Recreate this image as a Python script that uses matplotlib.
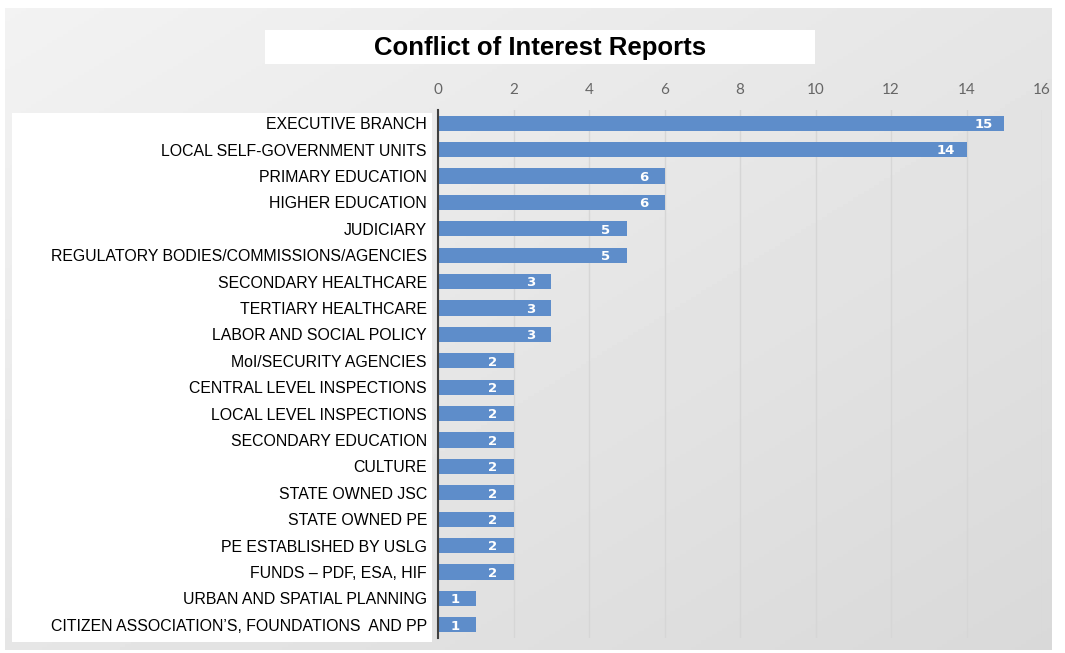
import numpy as np
import matplotlib
matplotlib.use('Agg')
import matplotlib.pyplot as plt
from matplotlib.patches import Rectangle

categories = [
    "EXECUTIVE BRANCH",
    "LOCAL SELF-GOVERNMENT UNITS",
    "PRIMARY EDUCATION",
    "HIGHER EDUCATION",
    "JUDICIARY",
    "REGULATORY BODIES/COMMISSIONS/AGENCIES",
    "SECONDARY HEALTHCARE",
    "TERTIARY HEALTHCARE",
    "LABOR AND SOCIAL POLICY",
    "MoI/SECURITY AGENCIES",
    "CENTRAL LEVEL INSPECTIONS",
    "LOCAL LEVEL INSPECTIONS",
    "SECONDARY EDUCATION",
    "CULTURE",
    "STATE OWNED JSC",
    "STATE OWNED PE",
    "PE ESTABLISHED BY USLG",
    "FUNDS \u2013 PDF, ESA, HIF",
    "URBAN AND SPATIAL PLANNING",
    "CITIZEN ASSOCIATION\u2019S, FOUNDATIONS  AND PP",
]
reports = [15, 14, 6, 6, 5, 5, 3, 3, 3, 2, 2, 2, 2, 2, 2, 2, 2, 2, 1, 1]
xticks = [0, 2, 4, 6, 8, 10, 12, 14, 16]

W, H = 1065, 653
fig = plt.figure(figsize=(W / 100, H / 100), dpi=100)

# background with gray gradient
bg = fig.add_axes([0, 0, 1, 1])
bg.set_xlim(0, W)
bg.set_ylim(H, 0)
bg.axis('off')
gx, gy = np.meshgrid(np.linspace(0, 1, 200), np.linspace(0, 1, 200))
grad = 0.95 - 0.10 * (0.5 * gx + 0.5 * gy)
bg.imshow(grad, cmap='gray', vmin=0, vmax=1, extent=[5, 1052, 650, 8],
          aspect='auto', zorder=0)
bg.add_patch(Rectangle((12, 113), 420, 529, facecolor='white', zorder=1))
bg.add_patch(Rectangle((265, 30), 550, 34, facecolor='white', zorder=1))
bg.text(540, 48, "Conflict of Interest Reports", ha='center', va='center',
        fontsize=18.5, fontweight='bold', family='Liberation Sans', zorder=2)

# bar chart
ax = fig.add_axes([438 / W, 1 - 638 / H, (1042 - 438) / W, (638 - 110) / H])
ax.patch.set_alpha(0)
y = np.arange(len(categories))
ax.barh(y, reports, height=0.58, color='#5e8dca', zorder=3)
ax.set_xlim(0, 16)
ax.set_ylim(len(categories) - 0.5, -0.5)
ax.set_xticks(xticks)
ax.xaxis.tick_top()
ax.tick_params(axis='x', length=0, pad=9, labelsize=11, labelcolor='#666666')
for lab in ax.get_xticklabels():
    lab.set_family('Lato')
ax.set_yticks(y)
ax.set_yticklabels(categories, fontsize=11.4, family='Liberation Sans')
ax.tick_params(axis='y', length=0, pad=8)
ax.grid(axis='x', color='#d6d6d6', linewidth=1, zorder=0)
for s in ['top', 'right', 'bottom']:
    ax.spines[s].set_visible(False)
ax.spines['left'].set_color('#404040')
ax.spines['left'].set_linewidth(1.5)
ax.spines['left'].set_zorder(4)

for yi, v in zip(y, reports):
    ax.text(v - 0.55, yi + 0.05, str(v), ha='center', va='center', color='white',
            fontsize=9.5, fontweight='bold', family='DejaVu Sans', zorder=5)

fig.savefig('out.png', dpi=100)
